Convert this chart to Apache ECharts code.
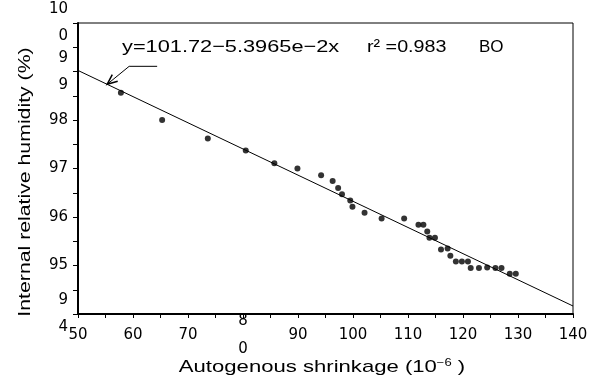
<!DOCTYPE html>
<html>
<head>
<meta charset="utf-8">
<script src="https://cdn.jsdelivr.net/npm/echarts@6/dist/echarts.min.js"></script>
<style>
  html, body { margin: 0; padding: 0; background: #fff; }
  #main { width: 595px; height: 383px; }
</style>
</head>
<body>
<div id="main"></div>
<script>
// measured points (autogenous shrinkage, internal RH)
const shrinkage = [57.8, 65.3, 73.6, 80.5, 85.7, 89.9, 94.2, 96.3, 97.3, 98.0, 99.5, 99.9, 102.1, 105.2,
  109.3, 111.9, 112.8, 113.5, 113.9, 114.9, 116.0, 117.2, 117.7, 118.7, 119.8, 120.9, 121.4, 122.9,
  124.4, 125.9, 127.0, 128.5, 129.6];
const humidity = [98.56, 98.0, 97.62, 97.37, 97.11, 97.0, 96.86, 96.74, 96.60, 96.47, 96.34, 96.21, 96.09, 95.97,
  95.97, 95.84, 95.84, 95.70, 95.57, 95.57, 95.33, 95.35, 95.20, 95.08, 95.08, 95.08, 94.95, 94.95,
  94.96, 94.95, 94.95, 94.83, 94.83];

// fit: y = 101.72 - 5.3965e-2 x
const fitIntercept = 101.72;
const fitSlope = -5.3965e-2;
const fitX = [50, 140];

// tick labels as printed (some broken over two lines)
const xLabels = { 50: '50', 60: '60', 70: '70', 80: '8\n0', 90: '90', 100: '100', 110: '110', 120: '120', 130: '130', 140: '140' };
const yLabels = { 94: '9\n4', 95: '95', 96: '96', 97: '97', 98: '98', 99: '9\n9', 100: '10\n0' };

const font = '"Liberation Sans", Arial, sans-serif';
const tickFont = '"DejaVu Sans", sans-serif';
const chart = echarts.init(document.getElementById('main'));

const option = {
  animation: false,
  grid: {
    left: 78, right: 22, top: 23, bottom: 69,
    outerBoundsMode: 'none',
    show: true, borderColor: '#000', borderWidth: 1
  },
  xAxis: {
    type: 'value',
    min: 50, max: 140, interval: 5,
    axisLine: { lineStyle: { color: '#000', width: 2 } },
    axisTick: { inside: false, length: 4, lineStyle: { color: '#000' } },
    splitLine: { show: false },
    axisLabel: {
      color: '#000', fontFamily: tickFont, fontSize: 15, margin: 21, lineHeight: 28,
      verticalAlign: 'middle',
      formatter: v => xLabels[v] || ''
    }
  },
  yAxis: {
    type: 'value',
    min: 94, max: 100, interval: 0.5,
    axisLine: { lineStyle: { color: '#000', width: 2 } },
    axisTick: { inside: false, length: 5, lineStyle: { color: '#000' } },
    splitLine: { show: false },
    axisLabel: {
      color: '#000', fontFamily: tickFont, fontSize: 15, margin: 10, lineHeight: 27,
      formatter: v => yLabels[v] || ''
    }
  },
  series: [
    {
      type: 'scatter',
      data: shrinkage.map((x, i) => [x, humidity[i]]),
      symbol: 'circle',
      symbolSize: 6,
      itemStyle: { color: '#000' },
      z: 3
    },
    {
      type: 'line',
      data: fitX.map(x => [x, fitIntercept + fitSlope * x]),
      showSymbol: false,
      lineStyle: { color: '#000', width: 1 },
      z: 2
    }
  ]
};
chart.setOption(option);

// arrow from the equation to the fit line
const tipX = 55.3;
const tip = chart.convertToPixel({ gridIndex: 0 }, [tipX, fitIntercept + fitSlope * tipX]);
const elbow = [tip[0] + 22, tip[1] - 18];
const tail = [elbow[0] + 28, elbow[1]];
const ang = Math.atan2(elbow[1] - tip[1], elbow[0] - tip[0]);
const head = 11;
const h1 = [tip[0] + head * Math.cos(ang + 0.4), tip[1] + head * Math.sin(ang + 0.4)];
const h2 = [tip[0] + head * Math.cos(ang - 0.4), tip[1] + head * Math.sin(ang - 0.4)];

chart.setOption({
  graphic: [
    {
      type: 'polyline',
      shape: { points: [tail, elbow, tip] },
      style: { stroke: '#000', lineWidth: 1, fill: null }
    },
    {
      type: 'polyline',
      shape: { points: [h1, tip, h2] },
      style: { stroke: '#000', lineWidth: 1.5, fill: null }
    },
    {
      type: 'text',
      x: 122, y: 47, scaleX: 1.28,
      style: { text: 'y=101.72\u22125.3965e\u22122x', font: '17px ' + font, fill: '#000', textVerticalAlign: 'middle' }
    },
    {
      type: 'text',
      x: 367, y: 47, scaleX: 1.16,
      style: { text: 'r\u00b2 =0.983', font: '17px ' + font, fill: '#000', textVerticalAlign: 'middle' }
    },
    {
      type: 'text',
      x: 479, y: 47,
      style: { text: 'BO', font: '17px ' + font, fill: '#000', textVerticalAlign: 'middle' }
    },
    {
      // y axis title
      type: 'text',
      x: 25, y: 182, rotation: Math.PI / 2, scaleX: 1.25,
      style: {
        text: 'Internal relative humidity (%)', font: '17px ' + font, fill: '#000',
        textAlign: 'center', textVerticalAlign: 'middle'
      }
    },
    {
      // x axis title
      type: 'text',
      x: 322, y: 367, scaleX: 1.3,
      style: {
        text: '{a|Autogenous shrinkage (10}{s|\u22126}{a| )}', fill: '#000',
        textAlign: 'center', textVerticalAlign: 'middle',
        rich: {
          a: { font: '17px ' + font, fill: '#000' },
          s: { font: '10px ' + font, fill: '#000', verticalAlign: 'top', padding: [0, 0, 8, 0] }
        }
      }
    }
  ]
});

window.addEventListener('resize', function () {
  chart.resize();
});
</script>
</body>
</html>
